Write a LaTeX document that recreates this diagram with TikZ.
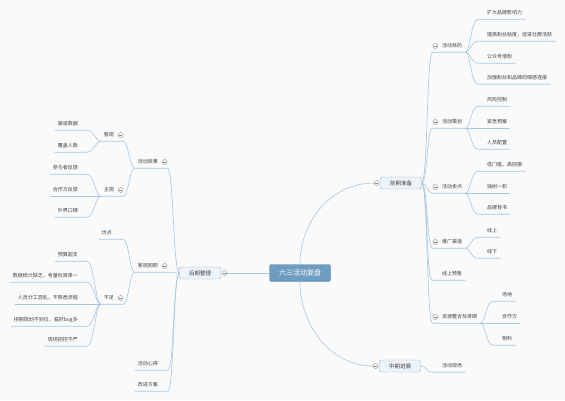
\documentclass[tikz,border=0pt]{standalone}
\usepackage{fontspec}
\newfontfamily\cjk{Noto Sans CJK SC}
\usepackage{xcolor}
\usetikzlibrary{positioning}
\definecolor{raizcor}{RGB}{111,157,193}
\definecolor{ramofundo}{RGB}{236,243,249}
\definecolor{ramoborda}{RGB}{150,182,210}
\definecolor{ligacor}{RGB}{168,198,224}
\definecolor{fundo}{RGB}{250,250,250}

\begin{document}
\begin{tikzpicture}[x=1pt, y=-1pt,
  raiz/.style={draw=raizcor!85!black, fill=raizcor, rounded corners=2pt, text=white, minimum width=61pt, minimum height=17pt, inner sep=0pt, font=\cjk\fontsize{7}{8}\selectfont},
  ramo/.style={draw=ramoborda, fill=ramofundo, rounded corners=1.5pt, minimum width=41pt, minimum height=12pt, inner sep=0pt, text=black!75, font=\cjk\fontsize{5.5}{6}\selectfont},
  topico/.style={inner xsep=3pt, inner ysep=3.5pt, text height=4pt, text depth=1pt, text=black!75, font=\cjk\fontsize{5}{6}\selectfont},
  dobra/.style={circle, draw=black!45, fill=white, line width=0.4pt, minimum size=5pt, inner sep=0pt, path picture={\draw[black!45, line width=0.4pt] ([xshift=1.2pt]path picture bounding box.west) -- ([xshift=-1.2pt]path picture bounding box.east);}},
  liga/.style={draw=ligacor, line width=0.6pt}]
\useasboundingbox (0,0) rectangle (565,400);
\fill[fundo] (0,0) rectangle (565,400);

% centro e ramos principais
\node[raiz] (raiz) at (300,273) {六三活动复盘};
\node[ramo] (qianqi) at (401,183) {前期准备};
\node[dobra, left=1pt of qianqi] (qianqi-f) {};
\node[ramo] (zhongqi) at (400,366) {中期进展};
\node[dobra, left=1pt of zhongqi] (zhongqi-f) {};
\node[ramo] (houqi) at (200,273) {后期整理};
\node[dobra, right=1pt of houqi] (houqi-f) {};
\draw[liga] (raiz.north) .. controls +(0,-45) and +(-41,0) .. (qianqi-f.west);
\draw[liga] (raiz.south) .. controls +(0,45) and +(-41,0) .. (zhongqi-f.west);
\draw[liga] (raiz.west) -- (houqi-f.east);

% lado direito
\foreach \n/\y/\t in {mudi/46/活动目的, cehua/122/活动策划, maidian/187/活动卖点, tuiguang/242/推广渠道, ziyuan/317/资源整合及排期}{
  \node[topico, anchor=west] (\n) at (439,\y) {\t};
  \node[dobra, left=1pt of \n] (\n-f) {};
  \draw[liga] (qianqi.east) .. controls +(6,0) and +(-6,0) .. (\n-f.west |- \n.south) -- (\n.south east);
}
\node[topico, anchor=west] (yushou) at (439,274) {线上预售};
\draw[liga] (qianqi.east) .. controls +(6,0) and +(-6,0) .. ([xshift=-7pt]yushou.south west) -- (yushou.south east);
\node[topico, anchor=west] (xianchang) at (439,366) {活动现场};
\draw[liga] (zhongqi.east) .. controls +(6,0) and +(-6,0) .. ([xshift=-7pt]xianchang.south west) -- (xianchang.south east);

\foreach \p/\n/\x/\y/\t in {mudi/kuoda/484/13/扩大品牌影响力, mudi/tigao/484/35/提高粉丝粘度，促进社群活跃, mudi/zengfen/484/57/公众号增粉, mudi/qinggan/484/78/加强粉丝和品牌的情感连接,
  cehua/fengxian/484/100/风险控制, cehua/jinji/484/122/紧急预案, cehua/renyuan/484/143/人员配置,
  maidian/menkan/484/165/低门槛，高回报, maidian/dushu/484/187/独树一帜, maidian/beishu/484/208/品牌背书,
  tuiguang/xianshang/484/231/线上, tuiguang/xianxia/484/252/线下,
  ziyuan/changdi/499/295/场地, ziyuan/hezuo/499/317/合作方, ziyuan/wuliao/499/339/物料}{
  \node[topico, anchor=west] (\n) at (\x,\y) {\t};
  \draw[liga] (\p.south east) .. controls +(5,0) and +(-7,0) .. ([xshift=-6pt]\n.south west) -- (\n.south east);
}

% lado esquerdo
\foreach \n/\y/\t in {xiaoguo/162/活动效果, huigu/266/客观回顾}{
  \node[topico, anchor=east] (\n) at (161,\y) {\t};
  \node[dobra, right=1pt of \n] (\n-f) {};
  \draw[liga] (houqi.west) .. controls +(-6,0) and +(6,0) .. (\n-f.east |- \n.south) -- (\n.south west);
}
\foreach \n/\y/\t in {xinde/364/活动心得, gaijin/385/改进方案}{
  \node[topico, anchor=east] (\n) at (161,\y) {\t};
  \draw[liga] (houqi.west) .. controls +(-6,0) and +(6,0) .. ([xshift=7pt]\n.south east) -- (\n.south west);
}
\foreach \p/\n/\y/\t in {xiaoguo/keguan/135/客观, xiaoguo/zhuguan/190/主观, huigu/buzu/298/不足}{
  \node[topico, anchor=east] (\n) at (117,\y) {\t};
  \node[dobra, right=1pt of \n] (\n-f) {};
  \draw[liga] (\p.south west) .. controls +(-5,0) and +(5,0) .. (\n-f.east |- \n.south) -- (\n.south west);
}
\node[topico, anchor=east] (youdian) at (115,233) {优点};
\draw[liga] (huigu.south west) .. controls +(-5,0) and +(6,0) .. ([xshift=8pt]youdian.south east) -- (youdian.south west);

\foreach \p/\n/\y/\t in {keguan/qudao/124/渠道数据, keguan/fugai/146/覆盖人数,
  zhuguan/canyu/168/参与者反馈, zhuguan/hezuofk/190/合作方反馈, zhuguan/koubei/211/外界口碑,
  buzu/yusuan/255/预算超支, buzu/tongji/276/数据统计缺乏，考量标准单一, buzu/fengong/298/人员分工混乱，不熟悉流程,
  buzu/paiqi/320/排期规划不到位，临时bug多, buzu/bakong/340/现场把控不严}{
  \node[topico, anchor=east] (\n) at (81,\y) {\t};
  \draw[liga] (\p.south west) .. controls +(-5,0) and +(7,0) .. ([xshift=6pt]\n.south east) -- (\n.south west);
}
\end{tikzpicture}
\end{document}
